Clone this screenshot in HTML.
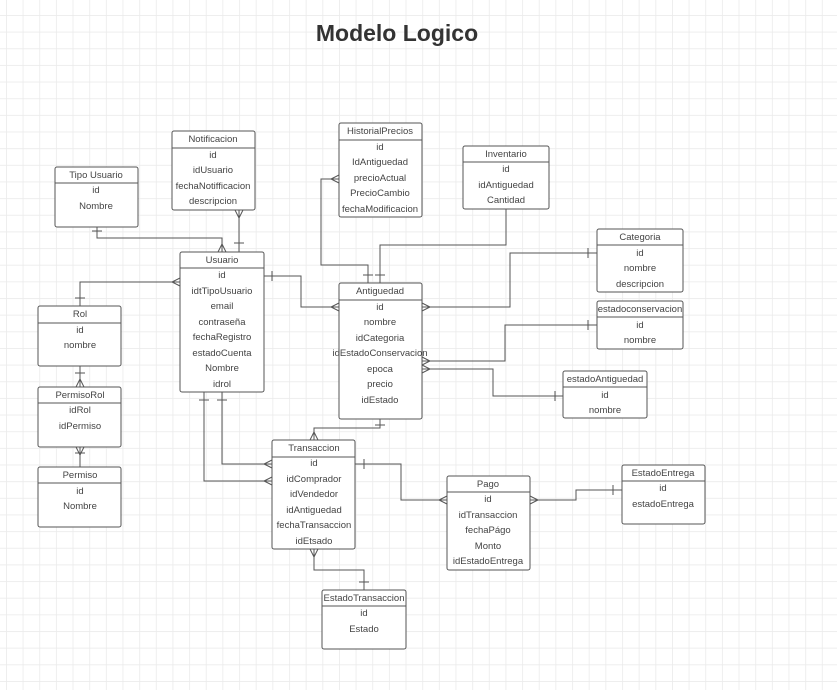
<!DOCTYPE html>
<html><head><meta charset="utf-8"><style>
html,body{margin:0;padding:0;background:#fff;}
svg{display:block;font-family:"Liberation Sans",sans-serif;}
.e rect{fill:#fff;stroke:#555;stroke-width:1}
.t{font-size:9.5px;fill:#444;text-anchor:middle}
.c{fill:none;stroke:#555;stroke-width:1}
</style></head><body>
<svg width="837" height="690" viewBox="0 0 837 690">
<defs>
<pattern id="g" x="6" y="15" width="16.65" height="16.65" patternUnits="userSpaceOnUse">
<path d="M0 0V16.65M0 0H16.65" fill="none" stroke="#ebebeb" stroke-width="1.6"/>
</pattern>
</defs>
<rect width="837" height="690" fill="url(#g)"/>
<text x="397" y="41" font-size="23" font-weight="bold" fill="#333" text-anchor="middle">Modelo Logico</text>

<!-- connectors -->
<g class="c">
<path d="M97 227V238H222V252"/><path d="M218 252L222 244L226 252"/><path d="M92 231H102"/>
<path d="M239 210V252"/><path d="M235 210L239 218L243 210"/><path d="M234 243H244"/>
<path d="M180 282H80V306"/><path d="M180 278L172 282L180 286"/><path d="M75 298H85"/>
<path d="M80 366V387"/><path d="M76 387L80 379L84 387"/><path d="M75 373H85"/>
<path d="M80 447V467"/><path d="M76 447L80 455L84 447"/><path d="M75 453H85"/>
<path d="M264 276H301V307H339"/><path d="M339 303L331 307L339 311"/><path d="M272 271V281"/>
<path d="M339 179H321V265H368V283"/><path d="M339 175L331 179L339 183"/><path d="M363 275H373"/>
<path d="M506 209V245H380V283"/><path d="M375 275H385"/>
<path d="M422 307H510V253H597"/><path d="M422 303L430 307L422 311"/><path d="M588 248V258"/>
<path d="M422 361H505V325H597"/><path d="M422 357L430 361L422 365"/><path d="M588 320V330"/>
<path d="M422 369H493V396H563"/><path d="M422 365L430 369L422 373"/><path d="M555 391V401"/>
<path d="M380 419V428H314V440"/><path d="M310 440L314 432L318 440"/><path d="M375 425H385"/>
<path d="M204 392V481H272"/><path d="M272 477L264 481L272 485"/><path d="M199 400H209"/>
<path d="M222 392V464H272"/><path d="M272 460L264 464L272 468"/><path d="M217 400H227"/>
<path d="M355 464H401V500H447"/><path d="M447 496L439 500L447 504"/><path d="M364 459V469"/>
<path d="M530 500H576V490H622"/><path d="M530 496L538 500L530 504"/><path d="M613 485V495"/>
<path d="M314 549V570H364V590"/><path d="M310 549L314 557L318 549"/><path d="M359 582H369"/>
</g>

<g class="e">
<rect x="55" y="167" width="83" height="60" rx="2"/><path d="M55 183H138" stroke="#555"/>
<rect x="172" y="131" width="83" height="79" rx="2"/><path d="M172 148H255" stroke="#555"/>
<rect x="339" y="123" width="83" height="94" rx="2"/><path d="M339 140H422" stroke="#555"/>
<rect x="463" y="146" width="86" height="63" rx="2"/><path d="M463 162H549" stroke="#555"/>
<rect x="597" y="229" width="86" height="63" rx="2"/><path d="M597 245H683" stroke="#555"/>
<rect x="597" y="301" width="86" height="48" rx="2"/><path d="M597 317H683" stroke="#555"/>
<rect x="563" y="371" width="84" height="47" rx="2"/><path d="M563 387H647" stroke="#555"/>
<rect x="180" y="252" width="84" height="140" rx="2"/><path d="M180 268H264" stroke="#555"/>
<rect x="339" y="283" width="83" height="136" rx="2"/><path d="M339 300H422" stroke="#555"/>
<rect x="38" y="306" width="83" height="60" rx="2"/><path d="M38 323H121" stroke="#555"/>
<rect x="38" y="387" width="83" height="60" rx="2"/><path d="M38 403H121" stroke="#555"/>
<rect x="38" y="467" width="83" height="60" rx="2"/><path d="M38 483H121" stroke="#555"/>
<rect x="272" y="440" width="83" height="109" rx="2"/><path d="M272 457H355" stroke="#555"/>
<rect x="447" y="476" width="83" height="94" rx="2"/><path d="M447 492H530" stroke="#555"/>
<rect x="622" y="465" width="83" height="59" rx="2"/><path d="M622 481H705" stroke="#555"/>
<rect x="322" y="590" width="84" height="59" rx="2"/><path d="M322 606H406" stroke="#555"/>
</g>

<g class="t">
<text x="96" y="178">Tipo Usuario</text><text x="96" y="193">id</text><text x="96" y="209">Nombre</text>
<text x="213" y="142">Notificacion</text><text x="213" y="158">id</text><text x="213" y="173">idUsuario</text><text x="213" y="189">fechaNotifficacion</text><text x="213" y="204">descripcion</text>
<text x="380" y="134">HistorialPrecios</text><text x="380" y="150">id</text><text x="380" y="165">IdAntiguedad</text><text x="380" y="181">precioActual</text><text x="380" y="196">PrecioCambio</text><text x="380" y="212">fechaModificacion</text>
<text x="506" y="157">Inventario</text><text x="506" y="172">id</text><text x="506" y="188">idAntiguedad</text><text x="506" y="203">Cantidad</text>
<text x="640" y="240">Categoria</text><text x="640" y="256">id</text><text x="640" y="271">nombre</text><text x="640" y="287">descripcion</text>
<text x="640" y="312">estadoconservacion</text><text x="640" y="328">id</text><text x="640" y="343">nombre</text>
<text x="605" y="382">estadoAntiguedad</text><text x="605" y="398">id</text><text x="605" y="413">nombre</text>
<text x="222" y="263">Usuario</text><text x="222" y="278">id</text><text x="222" y="294">idtTipoUsuario</text><text x="222" y="309">email</text><text x="222" y="325">contraseña</text><text x="222" y="340">fechaRegistro</text><text x="222" y="356">estadoCuenta</text><text x="222" y="371">Nombre</text><text x="222" y="387">idrol</text>
<text x="380" y="294">Antiguedad</text><text x="380" y="310">id</text><text x="380" y="325">nombre</text><text x="380" y="341">idCategoria</text><text x="380" y="356">idEstadoConservacion</text><text x="380" y="372">epoca</text><text x="380" y="387">precio</text><text x="380" y="403">idEstado</text>
<text x="80" y="317">Rol</text><text x="80" y="333">id</text><text x="80" y="348">nombre</text>
<text x="80" y="398">PermisoRol</text><text x="80" y="413">idRol</text><text x="80" y="429">idPermiso</text>
<text x="80" y="478">Permiso</text><text x="80" y="494">id</text><text x="80" y="509">Nombre</text>
<text x="314" y="451">Transaccion</text><text x="314" y="466">id</text><text x="314" y="482">idComprador</text><text x="314" y="497">idVendedor</text><text x="314" y="513">idAntiguedad</text><text x="314" y="528">fechaTransaccion</text><text x="314" y="544">idEtsado</text>
<text x="488" y="487">Pago</text><text x="488" y="502">id</text><text x="488" y="518">idTransaccion</text><text x="488" y="533">fechaPágo</text><text x="488" y="549">Monto</text><text x="488" y="564">idEstadoEntrega</text>
<text x="663" y="476">EstadoEntrega</text><text x="663" y="491">id</text><text x="663" y="507">estadoEntrega</text>
<text x="364" y="601">EstadoTransaccion</text><text x="364" y="616">id</text><text x="364" y="632">Estado</text>
</g>
</svg>
</body></html>
